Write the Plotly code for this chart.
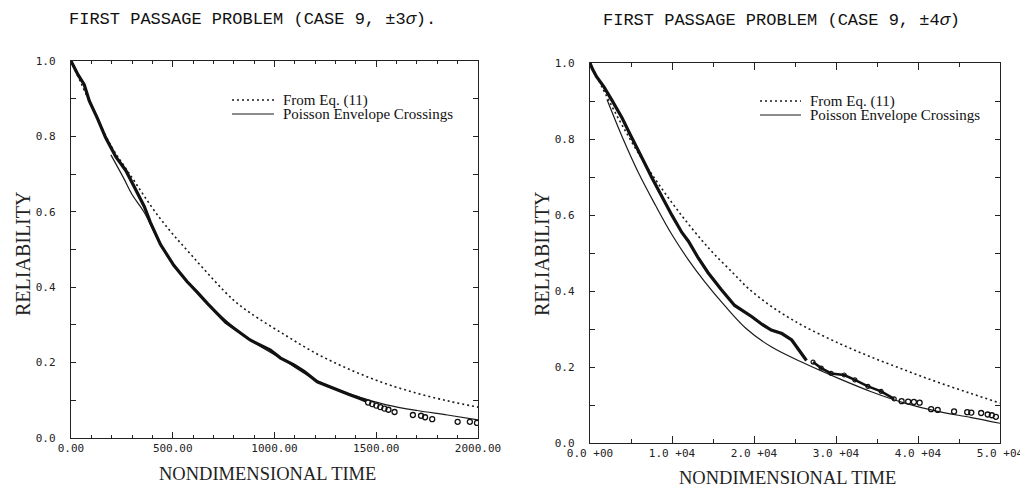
import plotly.graph_objects as go

# ---------------- data ----------------
# Left panel: CASE 9, +/-3 sigma  (time 0..2000)
sim3_t = [0, 10, 35, 65, 90, 130, 170, 220, 270, 310, 360, 390, 440, 505, 570, 620, 670, 760, 880, 980, 1030, 1095, 1145, 1210, 1290, 1370, 1420, 1450]
sim3_r = [1.0, 0.989, 0.963, 0.937, 0.894, 0.848, 0.797, 0.746, 0.709, 0.667, 0.614, 0.572, 0.513, 0.458, 0.415, 0.387, 0.357, 0.307, 0.260, 0.233, 0.212, 0.194, 0.177, 0.149, 0.131, 0.115, 0.105, 0.098]
sim3_pts_t = [1460, 1480, 1500, 1520, 1540, 1560, 1590, 1680, 1720, 1740, 1775, 1900, 1960, 1995]
sim3_pts_r = [0.094, 0.090, 0.086, 0.082, 0.078, 0.075, 0.069, 0.061, 0.059, 0.055, 0.050, 0.043, 0.043, 0.040]
eq11_3_t = [0, 100, 200, 281, 437, 600, 796, 880, 1046, 1209, 1373, 1536, 1699, 1863, 2000]
eq11_3_r = [1.0, 0.882, 0.772, 0.706, 0.583, 0.480, 0.367, 0.332, 0.275, 0.223, 0.181, 0.146, 0.119, 0.097, 0.082]
pois3_t = [196, 260, 300, 358, 440, 505, 570, 670, 880, 1030, 1210, 1370, 1450, 1550, 1700, 1850, 2000]
pois3_r = [0.751, 0.688, 0.646, 0.600, 0.513, 0.458, 0.415, 0.357, 0.260, 0.212, 0.152, 0.117, 0.103, 0.088, 0.073, 0.061, 0.048]

# Right panel: CASE 9, +/-4 sigma  (time 0..50000)
sim4_t = [0, 300, 800, 1700, 2700, 3900, 4900, 5900, 6700, 7500, 8800, 10000, 11200, 12000, 13200, 14400, 16000, 17640, 19700, 21000, 22100, 23400, 24600, 25800, 26400]
sim4_r = [1.0, 0.984, 0.964, 0.937, 0.901, 0.856, 0.812, 0.771, 0.735, 0.700, 0.646, 0.599, 0.554, 0.531, 0.487, 0.448, 0.404, 0.362, 0.333, 0.312, 0.297, 0.288, 0.271, 0.235, 0.217]
sim4b_t = [27200, 28200, 29400, 31000, 32300, 33900, 35500, 37100]
sim4b_r = [0.213, 0.197, 0.183, 0.179, 0.166, 0.149, 0.136, 0.116]
sim4_pts_t = [38000, 38800, 39500, 40200, 41600, 42400, 44400, 46000, 46500, 47700, 48500, 49000, 49500]
sim4_pts_r = [0.110, 0.109, 0.108, 0.106, 0.089, 0.087, 0.083, 0.081, 0.080, 0.079, 0.075, 0.073, 0.069]
eq11_4_t = [0, 2000, 4000, 6700, 9000, 11200, 13500, 15200, 17500, 19300, 21700, 24000, 26200, 30300, 34300, 38400, 42400, 46500, 50000]
eq11_4_r = [1.0, 0.914, 0.833, 0.735, 0.662, 0.598, 0.537, 0.496, 0.446, 0.407, 0.366, 0.333, 0.306, 0.263, 0.226, 0.192, 0.160, 0.130, 0.105]
pois4_t = [2070, 4000, 6000, 8000, 10000, 12000, 14000, 16400, 19000, 22100, 26200, 30300, 34300, 38400, 42400, 46500, 50000]
pois4_r = [0.904, 0.802, 0.707, 0.625, 0.548, 0.482, 0.424, 0.362, 0.302, 0.253, 0.209, 0.170, 0.135, 0.105, 0.083, 0.067, 0.052]

# tick labels
x3_ticks = [0, 500, 1000, 1500, 2000]
x3_text = ["0.00", "500.00", "1000.00", "1500.00", "2000.00"]
x4_ticks = [0, 10000, 20000, 30000, 40000, 50000]
x4_text = ["0.0 +00", "1.0 +04", "2.0 +04", "3.0 +04", "4.0 +04", "5.0 +04"]
y_ticks = [0.0, 0.2, 0.4, 0.6, 0.8, 1.0]
y_text = ["0.0", "0.2", "0.4", "0.6", "0.8", "1.0"]

titles = ["FIRST PASSAGE PROBLEM (CASE 9, \u00b13<i>\u03c3</i>).",
          "FIRST PASSAGE PROBLEM (CASE 9, \u00b14<i>\u03c3</i>)"]
legend_names = ["From Eq. (11)", "Poisson Envelope Crossings"]

# ---------------- figure ----------------
# the page body has an 8 px margin; positions below are in window pixels
OFF = 8
W, H = 1028 - OFF, 498 - OFF
fig = go.Figure()

INK = "#1b1b1b"
DOT = "2px,3px"

def add_panel(xa, ya, sim_t, sim_r, pts_t, pts_r, eq_t, eq_r, po_t, po_r, extra=None):
    fig.add_trace(go.Scatter(x=eq_t, y=eq_r, mode="lines", name=legend_names[0], line_shape="spline",
                             line=dict(color=INK, width=1.6, dash=DOT),
                             xaxis=xa, yaxis=ya, showlegend=False))
    fig.add_trace(go.Scatter(x=po_t, y=po_r, mode="lines", name=legend_names[1], line_shape="spline",
                             line=dict(color=INK, width=1.2),
                             xaxis=xa, yaxis=ya, showlegend=False))
    fig.add_trace(go.Scatter(x=sim_t, y=sim_r, mode="lines", showlegend=False,
                             line=dict(color="#111111", width=3.2),
                             xaxis=xa, yaxis=ya))
    if extra is not None:
        fig.add_trace(go.Scatter(x=extra[0], y=extra[1], mode="lines+markers", showlegend=False,
                                 line=dict(color="#111111", width=2.6),
                                 marker=dict(symbol="circle-open", size=4, color="#111111", line=dict(width=1.2)),
                                 xaxis=xa, yaxis=ya))
    fig.add_trace(go.Scatter(x=pts_t, y=pts_r, mode="markers", showlegend=False,
                             marker=dict(symbol="circle-open", size=5, color="#111111", line=dict(width=1.3)),
                             xaxis=xa, yaxis=ya))

add_panel("x", "y", sim3_t, sim3_r, sim3_pts_t, sim3_pts_r, eq11_3_t, eq11_3_r, pois3_t, pois3_r)
add_panel("x2", "y2", sim4_t, sim4_r, sim4_pts_t, sim4_pts_r, eq11_4_t, eq11_4_r, pois4_t, pois4_r,
          extra=(sim4b_t, sim4b_r))

tickfont = dict(family="DejaVu Sans Mono", size=11, color="#222222")
axis_common = dict(showline=True, linecolor="#222222", linewidth=1.4, mirror="ticks",
                   ticks="inside", tickcolor="#222222", showgrid=False, zeroline=False,
                   tickfont=tickfont, automargin=False)

def px2x(p):
    return (p - OFF) / W

def px2y(p):
    return 1 - (p - OFF) / H

fig.update_layout(
    width=W, height=H, margin=dict(l=0, r=0, t=0, b=0, autoexpand=False),
    plot_bgcolor="white", paper_bgcolor="white",
    showlegend=False,
    xaxis=dict(domain=[px2x(71), px2x(478)], range=[0, 2000], tickvals=x3_ticks, ticktext=x3_text,
               ticklen=6, tickwidth=1.2, minor=dict(dtick=100, ticks="inside", ticklen=3, tickcolor="#222222"),
               anchor="y", **axis_common),
    yaxis=dict(domain=[px2y(438), px2y(61)], range=[0, 1.0],
               tickvals=y_ticks, ticktext=y_text,
               ticklen=5, tickwidth=1.2, ticklabelstandoff=12,
               minor=dict(dtick=0.1, ticks="inside", ticklen=5, tickcolor="#222222"),
               anchor="x", **axis_common),
    xaxis2=dict(domain=[px2x(590), px2x(1000)], range=[0, 50000], tickvals=x4_ticks, ticktext=x4_text,
                ticklen=7, tickwidth=1.2, minor=dict(dtick=5000, ticks="inside", ticklen=4, tickcolor="#222222"),
                anchor="y2", **axis_common),
    yaxis2=dict(domain=[px2y(443), px2y(63)], range=[0, 1.0],
                tickvals=y_ticks, ticktext=y_text,
                ticklen=5, tickwidth=1.2, ticklabelstandoff=12,
                minor=dict(dtick=0.1, ticks="inside", ticklen=5, tickcolor="#222222"),
                anchor="x2", **axis_common),
)

# legend key (drawn as in the original: short line samples, tight rows)
legend_font = dict(family="Liberation Serif", size=15, color="#111111")
shapes = []
annotations = []
for (x0, x1, xt, y_a, y_b) in [(232, 274, 281, 100, 114), (760, 801, 808, 101, 115)]:
    shapes.append(dict(type="line", xref="paper", yref="paper", x0=px2x(x0), x1=px2x(x1),
                       y0=px2y(y_a), y1=px2y(y_a), line=dict(color=INK, width=1.5, dash=DOT)))
    shapes.append(dict(type="line", xref="paper", yref="paper", x0=px2x(x0), x1=px2x(x1),
                       y0=px2y(y_b), y1=px2y(y_b), line=dict(color=INK, width=1.2)))
    annotations.append(dict(text=legend_names[0], x=px2x(xt), y=px2y(y_a), xref="paper", yref="paper",
                            showarrow=False, xanchor="left", yanchor="middle", font=legend_font))
    annotations.append(dict(text=legend_names[1], x=px2x(xt), y=px2y(y_b), xref="paper", yref="paper",
                            showarrow=False, xanchor="left", yanchor="middle", font=legend_font))

annotations += [
    dict(text=titles[0], x=px2x(252), y=px2y(20), xref="paper", yref="paper", showarrow=False,
         xanchor="center", yanchor="middle", font=dict(family="Liberation Mono", size=17, color="#111111")),
    dict(text=titles[1], x=px2x(781), y=px2y(21), xref="paper", yref="paper", showarrow=False,
         xanchor="center", yanchor="middle", font=dict(family="Liberation Mono", size=17, color="#111111")),
    dict(text="RELIABILITY", x=px2x(23), y=px2y(254), xref="paper", yref="paper", showarrow=False,
         textangle=-90, xanchor="center", yanchor="middle", font=dict(family="Liberation Serif", size=20, color="#222222")),
    dict(text="RELIABILITY", x=px2x(542), y=px2y(254), xref="paper", yref="paper", showarrow=False,
         textangle=-90, xanchor="center", yanchor="middle", font=dict(family="Liberation Serif", size=20, color="#222222")),
    dict(text="NONDIMENSIONAL TIME", x=px2x(267), y=px2y(474), xref="paper", yref="paper", showarrow=False,
         xanchor="center", yanchor="middle", font=dict(family="Liberation Serif", size=18.5, color="#222222")),
    dict(text="NONDIMENSIONAL TIME", x=px2x(787), y=px2y(478), xref="paper", yref="paper", showarrow=False,
         xanchor="center", yanchor="middle", font=dict(family="Liberation Serif", size=18.5, color="#222222")),
]
fig.update_layout(annotations=annotations, shapes=shapes)

fig.write_html("out.html")
